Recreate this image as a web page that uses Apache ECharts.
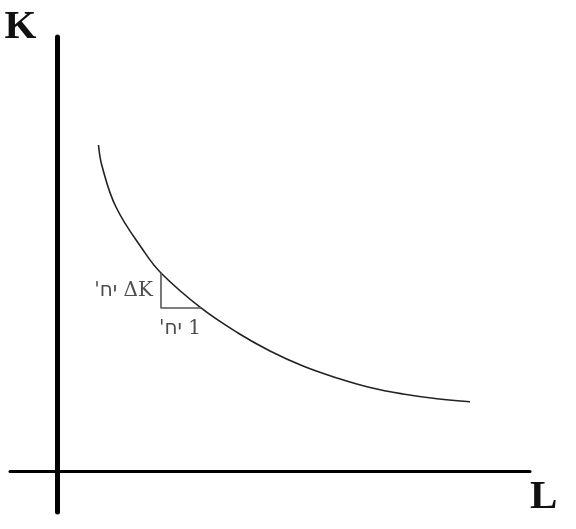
<!DOCTYPE html>
<html>
<head>
<meta charset="utf-8">
<script src="https://cdn.jsdelivr.net/npm/echarts@6/dist/echarts.min.js"></script>
<style>
  html, body { margin: 0; padding: 0; background: #fff; }
  #main { width: 576px; height: 529px; }
</style>
</head>
<body>
<div id="main"></div>
<script>
// isoquant curve points (L, K)
var curveL = [0.872, 0.946, 1.242, 1.814, 2.194, 3.041, 3.823, 4.500, 5.198, 5.918, 6.616, 7.314, 8.033, 8.731];
var curveK = [7.510, 7.026, 6.081, 5.090, 4.560, 3.753, 3.177, 2.762, 2.416, 2.139, 1.920, 1.770, 1.660, 1.591];

// small triangle under the curve: top, corner, right end
var triL = [2.194, 2.194, 3.041];
var triK = [4.560, 3.753, 3.753];

var labelTexts = ['\u202BΔK יח\'\u202C', '\u202B1 יח\'\u202C'];

var axisNames = ['L', 'K'];

var chart = echarts.init(document.getElementById('main'), null, { renderer: 'canvas' });

var curveData = curveL.map(function (l, i) { return [l, curveK[i]]; });
var triData = triL.map(function (l, i) { return [l, triK[i]]; });

var option = {
  backgroundColor: '#fff',
  animation: false,
  grid: {
    left: 10,
    right: 46,
    top: 37,
    bottom: 17
  },
  xAxis: {
    type: 'value',
    min: -1,
    max: 10,
    name: axisNames[0],
    nameLocation: 'end',
    nameGap: 0,
    nameTextStyle: {
      fontFamily: 'Liberation Serif',
      fontWeight: 'bold',
      fontSize: 41,
      color: '#111',
      align: 'left',
      verticalAlign: 'top',
      padding: [6, 0, 0, 0]
    },
    axisLine: { onZero: true, lineStyle: { color: '#000', width: 3 } },
    axisTick: { show: false },
    axisLabel: { show: false },
    splitLine: { show: false }
  },
  yAxis: {
    type: 'value',
    min: -0.95,
    max: 10,
    name: axisNames[1],
    nameLocation: 'end',
    nameGap: 10,
    nameTextStyle: {
      fontFamily: 'Liberation Serif',
      fontWeight: 'bold',
      fontSize: 41,
      color: '#111',
      align: 'right',
      verticalAlign: 'middle',
      padding: [0, 21, 0, 0]
    },
    axisLine: { onZero: true, lineStyle: { color: '#000', width: 5 } },
    axisTick: { show: false },
    axisLabel: { show: false },
    splitLine: { show: false }
  },
  series: [
    {
      name: 'isoquant',
      type: 'line',
      smooth: 0.4,
      symbol: 'none',
      lineStyle: { color: '#222', width: 1.6 },
      data: curveData
    },
    {
      name: 'triangle',
      type: 'line',
      symbol: 'none',
      lineStyle: { color: '#555', width: 1.6 },
      data: triData
    },
    {
      name: 'labels',
      type: 'scatter',
      symbolSize: 0,
      label: {
        show: true,
        fontFamily: '"DejaVu Serif", "DejaVu Sans"',
        fontSize: 20,
        color: '#222',
        formatter: function (p) { return labelTexts[p.dataIndex]; }
      },
      data: [
        {
          value: [triL[0], (triK[0] + triK[1]) / 2],
          label: { position: 'left', distance: 8 }
        },
        {
          value: [triL[2], triK[2]],
          label: { position: 'bottom', align: 'right', distance: 11 }
        }
      ]
    }
  ]
};

chart.setOption(option);
</script>
</body>
</html>
